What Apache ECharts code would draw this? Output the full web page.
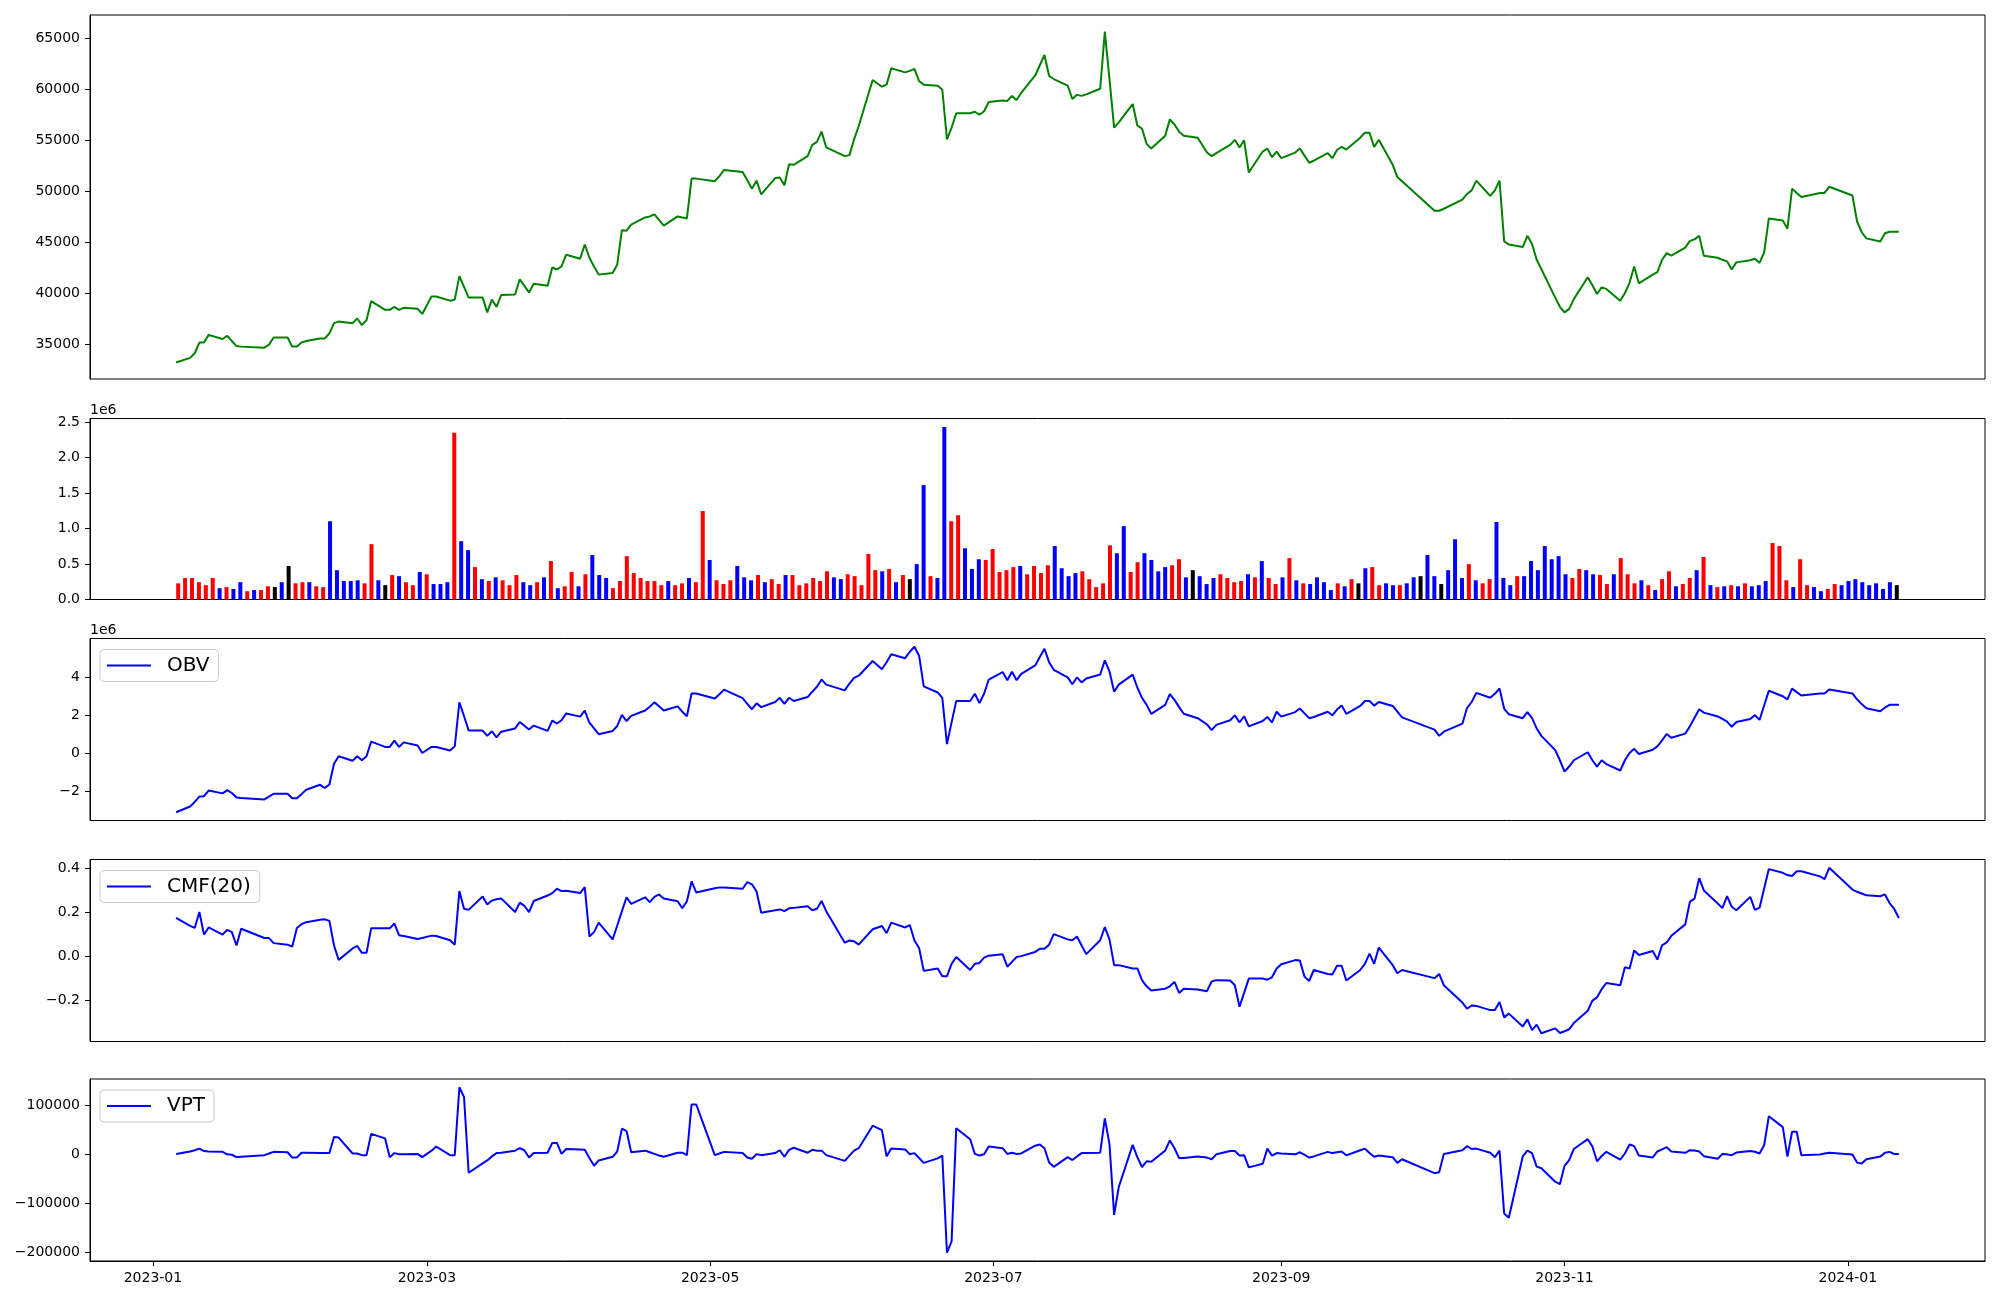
<!DOCTYPE html>
<html>
<head>
<meta charset="utf-8">
<script src="https://cdn.jsdelivr.net/npm/echarts@6/dist/echarts.min.js"></script>
<style>html,body{margin:0;padding:0;background:#fff}#chart{width:2000px;height:1300px}</style>
</head>
<body>
<div id="chart"></div>
<script>
// ---------------- DATA ----------------
const startDate = '2023-01-06';
const endDate = '2024-01-12';
const marketHolidays = ['2023-01-23','2023-01-24','2023-03-01','2023-05-01','2023-05-05','2023-05-29',
  '2023-06-06','2023-08-15','2023-09-28','2023-09-29','2023-10-02','2023-10-03','2023-10-09',
  '2023-12-25','2023-12-29','2024-01-01'];

const price = [
  33250,33700,34150,35200,35200,35950,35550,35850,35350,34850,34800,34700,35000,35700,35700,34800,
  34800,35200,35350,35600,35600,36100,37100,37250,37100,37550,36900,37400,39250,38400,38400,38700,38400,38600,38500,38000,
  39700,39700,39300,39400,41700,40650,39600,39600,38150,39400,38700,39850,39900,41400,40750,40100,40950,40750,42550,42350,42650,43800,
  43400,44800,43500,42650,41850,42000,42850,46200,46150,46750,47450,47550,47750,47200,46650,47550,47450,47350,51250,51250,
  51000,51500,52100,51900,51100,50250,51050,49700,51300,51350,50600,52650,52600,53450,54550,54850,55850,54300,53450,53550,
  55100,56400,60900,60250,60450,62050,61650,61800,62000,60800,60450,60350,59950,55100,56250,57650,57650,57800,57500,57850,58750,
  58900,58850,59350,58950,59650,61350,62350,63350,61300,61000,60350,59050,59450,59350,59500,60050,65650,61000,56250,56750,58550,
  56450,56150,54650,54200,55450,57050,56550,55850,55450,55250,53800,53450,53750,54550,55050,54300,55000,51850,53900,54200,53350,53900,
  53250,53800,54200,53500,52800,53000,53750,53250,54050,54350,54100,55250,55750,55750,54350,55050,52600,51400,51000,
  48100,48100,48300,49200,49750,50100,51050,49550,50100,51050,45100,44800,44550,45650,44850,43300,42400,39600,38700,
  38150,38500,39450,41600,40800,39950,40600,40450,39300,40050,41050,42650,41000,41850,42100,43300,43950,43700,44500,45150,45300,45650,
  43700,43500,43300,43150,42350,43050,43250,43400,43000,44050,47350,47150,46350,50250,49850,49450,49850,49850,50450,
  49600,47050,46000,45400,45100,45900,46050,46050,46050
];

const volume = [
  228e3,303e3,303e3,244e3,202e3,303e3,159e3,175e3,149e3,244e3,117e3,133e3,133e3,186e3,175e3,244e3,
  473e3,228e3,244e3,244e3,186e3,175e3,1104e3,414e3,260e3,260e3,271e3,228e3,781e3,271e3,202e3,345e3,329e3,244e3,202e3,388e3,
  356e3,218e3,218e3,244e3,2352e3,823e3,696e3,457e3,287e3,260e3,313e3,271e3,202e3,345e3,244e3,202e3,244e3,313e3,542e3,159e3,186e3,388e3,
  186e3,356e3,627e3,345e3,303e3,159e3,260e3,611e3,372e3,303e3,260e3,260e3,202e3,260e3,202e3,228e3,303e3,244e3,1248e3,558e3,
  271e3,218e3,271e3,473e3,313e3,271e3,345e3,244e3,287e3,218e3,345e3,345e3,202e3,228e3,303e3,260e3,398e3,313e3,287e3,356e3,
  329e3,202e3,643e3,414e3,398e3,430e3,244e3,345e3,287e3,499e3,1614e3,329e3,303e3,2432e3,1104e3,1189e3,722e3,430e3,568e3,558e3,712e3,
  388e3,414e3,457e3,473e3,356e3,473e3,372e3,483e3,754e3,441e3,329e3,372e3,398e3,287e3,175e3,228e3,765e3,653e3,1035e3,388e3,526e3,
  653e3,558e3,398e3,457e3,483e3,568e3,313e3,414e3,329e3,218e3,303e3,356e3,303e3,244e3,260e3,356e3,313e3,542e3,303e3,218e3,313e3,584e3,
  271e3,228e3,218e3,313e3,244e3,133e3,228e3,186e3,287e3,228e3,441e3,457e3,202e3,228e3,202e3,202e3,228e3,313e3,329e3,
  627e3,329e3,218e3,414e3,850e3,303e3,499e3,271e3,228e3,287e3,1094e3,303e3,202e3,329e3,329e3,542e3,414e3,754e3,568e3,
  611e3,356e3,303e3,430e3,414e3,356e3,345e3,218e3,356e3,584e3,356e3,228e3,271e3,202e3,133e3,287e3,398e3,186e3,218e3,303e3,414e3,600e3,
  202e3,175e3,186e3,202e3,186e3,228e3,186e3,202e3,260e3,797e3,754e3,271e3,175e3,568e3,202e3,175e3,117e3,149e3,218e3,
  202e3,260e3,287e3,244e3,202e3,228e3,149e3,244e3,202e3
];

// bar colour per day: u = red, d = blue, e = black
const barDirection = [
  'u u u u u u d u d d u d u u e d',
  'e u u d u u d d d d d u u d e u d u u d',
  'u d d d u d d u d u d u u u d d u d u d u u',
  'd u d d d u u u u u u u u d u u d u u d',
  'u u u d d d u d u u d u u u u u u d d u',
  'u u u u d u d u e d d u d d u u d d d u u',
  'u u u d u u u u d d d d u u u u u d d u u',
  'd d d d u u d e d d d u u u u d u d u u d u',
  'd u d d d d u d u e d u u d d u d d e',
  'd d e d d d u d u u d d d u d d d d d',
  'd d u u d d u u d u u u d u d u u d u u d u',
  'd u d u d u d d d u u u d u u d d u u',
  'd d d d d d d d e'
].join(' ').split(' ');

const obv = [
  -3.10e6,-2.80e6,-2.56e6,-2.28e6,-2.26e6,-1.96e6,-2.11e6,-1.94e6,-2.09e6,-2.33e6,-2.35e6,-2.43e6,-2.28e6,-2.13e6,-2.13e6,-2.37e6,
  -2.37e6,-2.15e6,-1.92e6,-1.66e6,-1.83e6,-1.64e6,-0.55e6,-0.16e6,-0.40e6,-0.16e6,-0.37e6,-0.16e6,0.61e6,0.33e6,0.33e6,0.66e6,0.33e6,0.57e6,0.40e6,0.01e6,
  0.33e6,0.33e6,0.14e6,0.36e6,2.67e6,1.94e6,1.19e6,1.19e6,0.91e6,1.15e6,0.83e6,1.13e6,1.30e6,1.64e6,1.44e6,1.24e6,1.45e6,1.17e6,1.71e6,1.56e6,1.73e6,2.09e6,
  1.92e6,2.24e6,1.60e6,1.30e6,1.00e6,1.17e6,1.43e6,2.01e6,1.69e6,1.96e6,2.24e6,2.44e6,2.67e6,2.46e6,2.24e6,2.46e6,2.18e6,1.94e6,3.14e6,3.14e6,
  2.87e6,3.10e6,3.34e6,2.89e6,2.59e6,2.31e6,2.62e6,2.42e6,2.69e6,2.91e6,2.59e6,2.91e6,2.74e6,2.95e6,3.23e6,3.49e6,3.87e6,3.60e6,3.30e6,3.66e6,
  3.96e6,4.07e6,4.84e6,4.41e6,4.78e6,5.20e6,4.99e6,5.33e6,5.59e6,5.12e6,3.51e6,3.19e6,2.91e6,0.48e6,1.62e6,2.74e6,2.74e6,3.12e6,2.63e6,3.12e6,3.87e6,
  4.26e6,3.83e6,4.28e6,3.83e6,4.17e6,4.61e6,5.05e6,5.48e6,4.78e6,4.38e6,3.98e6,3.62e6,3.98e6,3.72e6,3.92e6,4.13e6,4.88e6,4.30e6,3.23e6,3.60e6,4.13e6,
  3.45e6,2.91e6,2.54e6,2.07e6,2.54e6,3.10e6,2.80e6,2.42e6,2.07e6,1.84e6,1.51e6,1.21e6,1.49e6,1.73e6,1.99e6,1.62e6,1.94e6,1.41e6,1.69e6,1.90e6,1.62e6,2.18e6,
  1.92e6,2.16e6,2.35e6,2.09e6,1.84e6,1.90e6,2.18e6,1.99e6,2.29e6,2.50e6,2.07e6,2.48e6,2.74e6,2.74e6,2.50e6,2.69e6,2.48e6,2.18e6,1.88e6,
  1.24e6,0.91e6,1.13e6,1.55e6,2.37e6,2.69e6,3.17e6,2.91e6,3.12e6,3.40e6,2.33e6,2.05e6,1.84e6,2.16e6,1.84e6,1.30e6,0.91e6,0.16e6,-0.37e6,
  -0.97e6,-0.70e6,-0.37e6,0.05e6,-0.37e6,-0.70e6,-0.37e6,-0.57e6,-0.91e6,-0.37e6,0.01e6,0.23e6,-0.04e6,0.18e6,0.36e6,0.67e6,1.01e6,0.81e6,1.03e6,1.41e6,1.86e6,2.31e6,
  2.13e6,1.93e6,1.80e6,1.66e6,1.39e6,1.64e6,1.80e6,2.00e6,1.75e6,2.52e6,3.28e6,2.99e6,2.83e6,3.39e6,3.21e6,3.03e6,3.14e6,3.14e6,3.35e6,
  3.14e6,2.83e6,2.58e6,2.36e6,2.20e6,2.40e6,2.54e6,2.54e6,2.54e6
];

const cmf = [
  0.175,0.138,0.129,0.201,0.099,0.131,0.099,0.120,0.110,0.049,0.125,0.083,0.083,0.060,0.053,0.044,
  0.129,0.146,0.155,0.166,0.168,0.161,0.049,-0.016,0.036,0.047,0.016,0.016,0.127,0.127,0.127,0.149,0.096,0.092,0.079,0.083,
  0.094,0.092,0.073,0.053,0.296,0.216,0.211,0.272,0.235,0.253,0.259,0.263,0.201,0.244,0.229,0.201,0.251,0.276,0.287,0.307,0.296,0.298,
  0.287,0.314,0.090,0.110,0.153,0.077,0.140,0.205,0.268,0.238,0.268,0.246,0.270,0.281,0.263,0.250,0.218,0.250,0.340,0.290,
  0.309,0.313,0.313,0.307,0.337,0.327,0.294,0.198,0.209,0.213,0.205,0.218,0.220,0.227,0.209,0.216,0.251,0.205,0.062,0.072,
  0.068,0.053,0.123,0.138,0.105,0.153,0.131,0.142,0.072,0.038,-0.066,-0.055,-0.090,-0.090,-0.034,-0.003,-0.062,-0.034,-0.030,-0.006,0.003,
  0.009,-0.047,-0.025,-0.003,0.001,0.020,0.034,0.034,0.053,0.101,0.077,0.073,0.090,0.049,0.010,0.073,0.133,0.077,-0.040,-0.040,-0.055,
  -0.055,-0.108,-0.136,-0.155,-0.147,-0.136,-0.116,-0.166,-0.147,-0.151,-0.158,-0.114,-0.108,-0.110,-0.131,-0.229,-0.166,-0.101,-0.101,-0.106,-0.095,-0.055,
  -0.036,-0.017,-0.019,-0.092,-0.112,-0.062,-0.080,-0.082,-0.043,-0.043,-0.110,-0.062,-0.034,0.012,-0.034,0.040,-0.040,-0.077,-0.062,
  -0.099,-0.080,-0.131,-0.210,-0.238,-0.223,-0.225,-0.244,-0.244,-0.207,-0.277,-0.260,-0.318,-0.286,-0.335,-0.310,-0.349,-0.327,-0.348,
  -0.340,-0.331,-0.303,-0.247,-0.201,-0.186,-0.149,-0.121,-0.131,-0.049,-0.056,0.027,0.006,0.024,-0.015,0.050,0.063,0.093,0.145,0.248,0.262,0.355,
  0.299,0.240,0.219,0.273,0.225,0.209,0.270,0.211,0.221,0.309,0.396,0.379,0.369,0.365,0.386,0.386,0.363,0.351,0.402,
  0.303,0.293,0.285,0.277,0.273,0.281,0.242,0.215,0.174
];

const vpt = [
  1000,6100,8600,12000,6900,6100,5300,300,-600,-5600,-4800,-1400,2000,5300,4500,-6400,
  -6400,3600,3600,2800,2800,2800,35600,34600,2000,2000,-1400,-1400,42200,32900,-5600,2800,300,300,1100,-5600,
  7800,16200,-1400,-1400,137700,117600,-37400,-18200,-12300,-4000,2800,3600,7800,12800,8600,-6400,2800,3600,23700,23700,1100,11200,
  10300,9500,-7300,-23200,-12300,-4800,6100,53000,47900,4500,7800,4500,1100,-2300,-4800,3600,3600,-1400,102500,102500,
  -1400,2000,5300,2800,-6400,-8900,700,-1400,2800,8600,-4800,9500,13700,3600,9500,7800,7800,-1400,-13100,-2300,
  7800,12800,58900,49700,-4000,12000,10300,300,2800,-7300,-17300,-8100,-2300,-201400,-178200,53900,31300,1100,-2300,300,16200,
  12800,1100,3600,1100,2000,17900,20400,12800,-16500,-25300,-5600,-11500,-4000,2800,2800,3600,74000,21200,-123700,-66800,19600,
  -5600,-25700,-14000,-14800,7800,28700,12800,-7300,-7300,-4000,-6400,-9800,300,6900,6900,-2300,-1400,-26500,-19000,12000,-2300,2800,
  2000,300,4500,-600,-6400,-4000,5300,2800,4500,6100,-1800,8600,12000,2800,-4800,-2300,-5600,-17300,-9800,
  -38300,-36600,1100,8600,17000,11200,12000,3600,-5600,7800,-121200,-129600,-4000,7800,2800,-24900,-28300,-55900,-60900,
  -23200,-11500,11200,31300,16200,-14000,-3100,5300,-10600,2000,20400,17000,-2000,-6100,6100,10500,14900,6100,3500,8800,7900,6100,
  -3500,-8800,1100,200,-1500,3800,7300,5500,2000,19500,78300,56100,-4400,46500,46500,-1800,0,1800,3500,
  0,-16700,-18500,-9700,-4400,3500,5300,900,900
];

const xTickLabels = ['2023-01','2023-03','2023-05','2023-07','2023-09','2023-11','2024-01'];
const priceTicks = [35000,40000,45000,50000,55000,60000,65000];
const volumeTicks = [0,0.5e6,1.0e6,1.5e6,2.0e6,2.5e6];
const obvTicks = [-2e6,0,2e6,4e6];
const cmfTicks = [-0.2,0,0.2,0.4];
const vptTicks = [-200000,-100000,0,100000];

// ---------------- BUILD ----------------
function parseDay(s){const p=s.split('-').map(Number);return new Date(p[0],p[1]-1,p[2]||1);}
function dayKey(d){return d.getFullYear()+'-'+String(d.getMonth()+1).padStart(2,'0')+'-'+String(d.getDate()).padStart(2,'0');}
const dates=[];
for(let d=parseDay(startDate); d<=parseDay(endDate); d.setDate(d.getDate()+1)){
  const wd=d.getDay();
  if(wd===0||wd===6) continue;
  if(marketHolidays.includes(dayKey(d))) continue;
  dates.push(d.getTime());
}
if(dates.length!==price.length) console.warn('length mismatch', dates.length, price.length);

function padRange(arr,f){const mn=Math.min(...arr),mx=Math.max(...arr),r=mx-mn;return [mn-f*r,mx+f*r];}
const tSpan=dates[dates.length-1]-dates[0];
const tMin=dates[0]-0.05*tSpan, tMax=dates[dates.length-1]+0.05*tSpan;
const xTickValues=xTickLabels.map(s=>parseDay(s).getTime());

const N=volume.length, barUnits=0.6;
const volPad=barUnits/2+0.05*(N-1+barUnits);

const FONT='DejaVu Sans';
const axisText={fontFamily:FONT,fontSize:14,color:'#000'};
const neg=v=>v<0?'\u2212':'';
const fmtPrice=v=>String(Math.round(v));
const fmtVol=v=>(v/1e6).toFixed(1);
const fmtObv=v=>{const x=Math.round(v/1e6);return neg(x)+Math.abs(x);};
const fmtCmf=v=>{const r=Math.round(v*10)/10;return neg(r)+Math.abs(r).toFixed(1);};
const fmtVpt=v=>{const r=Math.round(v);return neg(r)+Math.abs(r);};
const fmtMonth=v=>{const d=new Date(v);return d.getFullYear()+'-'+String(d.getMonth()+1).padStart(2,'0');};

const L=90, W=1895;
const gridBoxes=[[15,364],[418.5,181],[638.5,182],[859.5,182],[1079,182]];
const grid=gridBoxes.map(g=>({left:L,width:W,top:g[0],height:g[1],show:true,borderColor:'#000',borderWidth:1,backgroundColor:'transparent'}));

function dateAxis(idx,showTicks){
  return {type:'value',gridIndex:idx,min:tMin,max:tMax,scale:true,
    axisLine:{show:showTicks,onZero:false,lineStyle:{color:'#000',width:1}},
    axisTick:{show:showTicks,length:5,lineStyle:{color:'#000'},customValues:xTickValues},
    axisLabel:Object.assign({show:showTicks,margin:10,customValues:xTickValues,formatter:fmtMonth},axisText),
    splitLine:{show:false}};
}
function yAxis(idx,range,ticks,fmt,extra){
  return Object.assign({type:'value',gridIndex:idx,min:range[0],max:range[1],scale:true,
    axisLine:{show:true,onZero:false,lineStyle:{color:'#000',width:1}},
    axisTick:{show:true,length:5,lineStyle:{color:'#000'},customValues:ticks},
    axisLabel:Object.assign({show:true,margin:10,customValues:ticks,formatter:fmt},axisText),
    splitLine:{show:false}},extra||{});
}
const offsetName={name:'1e6',nameLocation:'end',nameGap:1,
  nameTextStyle:{fontFamily:FONT,fontSize:14,color:'#000',align:'left',verticalAlign:'bottom'}};

const legendBase={orient:'horizontal',icon:'rect',itemWidth:44,itemHeight:2,itemGap:0,
  padding:[6,9,6,7],borderColor:'#cccccc',borderWidth:1,borderRadius:4,backgroundColor:'rgba(255,255,255,0.8)',
  selectedMode:false,textStyle:{fontFamily:FONT,fontSize:20,color:'#000',padding:[0,0,0,11]}};

const dirColor={u:'#ff0000',d:'#0000ff',e:'#000000'};
const lineSeries=(name,xi,arr,color)=>({type:'line',name:name,xAxisIndex:xi,yAxisIndex:xi,
  data:dates.map((t,i)=>[t,arr[i]]),showSymbol:false,symbol:'none',
  lineStyle:{color:color,width:2},itemStyle:{color:color},animation:false});

const option={
  animation:false,
  backgroundColor:'#fff',
  grid:grid,
  xAxis:[
    dateAxis(0,false),
    {type:'value',gridIndex:1,min:-volPad,max:N-1+volPad,show:false,scale:true},
    dateAxis(2,false),
    dateAxis(3,false),
    dateAxis(4,true)
  ],
  yAxis:[
    yAxis(0,padRange(price,0.05),priceTicks,fmtPrice),
    yAxis(1,[0,Math.max(...volume)*1.05],volumeTicks,fmtVol,offsetName),
    yAxis(2,padRange(obv,0.05),obvTicks,fmtObv,offsetName),
    yAxis(3,padRange(cmf,0.05),cmfTicks,fmtCmf),
    yAxis(4,padRange(vpt,0.05),vptTicks,fmtVpt)
  ],
  legend:[
    Object.assign({data:['OBV'],left:100,top:649.5},legendBase),
    Object.assign({data:['CMF(20)'],left:100,top:870.5},legendBase),
    Object.assign({data:['VPT'],left:100,top:1090},legendBase)
  ],
  series:[
    lineSeries('Close',0,price,'#008000'),
    {type:'bar',name:'Volume',xAxisIndex:1,yAxisIndex:1,barWidth:4,animation:false,
      data:volume.map((v,i)=>({value:[i,v],itemStyle:{color:dirColor[barDirection[i]]}}))},
    lineSeries('OBV',2,obv,'#0000ff'),
    lineSeries('CMF(20)',3,cmf,'#0000ff'),
    lineSeries('VPT',4,vpt,'#0000ff')
  ]
};
const chart=echarts.init(document.getElementById('chart'),null,{renderer:'canvas',width:2000,height:1300});
chart.setOption(option);
</script>
</body>
</html>
